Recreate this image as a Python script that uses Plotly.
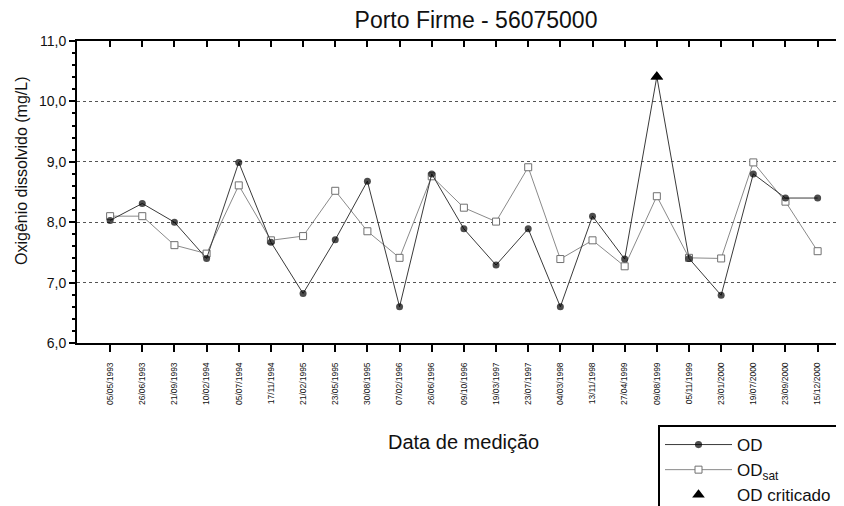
import plotly.graph_objects as go

dates = ["05/05/1993", "26/06/1993", "21/09/1993", "10/02/1994", "05/07/1994",
         "17/11/1994", "21/02/1995", "23/05/1995", "30/08/1995", "07/02/1996",
         "26/06/1996", "09/10/1996", "19/03/1997", "23/07/1997", "04/03/1998",
         "13/11/1998", "27/04/1999", "09/08/1999", "05/11/1999", "23/01/2000",
         "19/07/2000", "23/09/2000", "15/12/2000"]
od = [8.03, 8.31, 8.00, 7.40, 8.99, 7.67, 6.82, 7.71, 8.68, 6.60, 8.80, 7.89,
      7.29, 7.89, 6.60, 8.10, 7.39, 10.41, 7.40, 6.79, 8.80, 8.40, 8.40]
od_sat = [8.10, 8.10, 7.62, 7.48, 8.61, 7.70, 7.77, 8.52, 7.85, 7.41, 8.76, 8.24,
          8.01, 8.91, 7.39, 7.70, 7.27, 8.43, 7.41, 7.40, 8.99, 8.34, 7.52]
crit_idx = [17]
y_ticks = [6, 7, 8, 9, 10, 11]

FONT = "Liberation Sans, Arial, sans-serif"
OFF = 8  # page body margin offset

od_symbols = ["triangle-up" if i in crit_idx else "circle" for i in range(len(od))]
od_sizes = [11 if i in crit_idx else 7 for i in range(len(od))]

fig = go.Figure()
fig.add_trace(go.Scatter(
    x=dates, y=od_sat, mode="lines+markers", name="OD<sub>sat</sub>",
    line=dict(color="#8a8a8a", width=1),
    marker=dict(symbol="square", size=7, color="white", line=dict(color="#707070", width=1)),
    legendrank=2,
))
fig.add_trace(go.Scatter(
    x=dates, y=od, mode="lines+markers", name="OD",
    line=dict(color="#3a3a3a", width=1),
    marker=dict(symbol=od_symbols, size=od_sizes, color="black", line=dict(width=0)),
    legendrank=1,
))
fig.add_trace(go.Scatter(
    x=[dates[i] for i in crit_idx], y=[od[i] for i in crit_idx], mode="markers",
    name="OD criticado",
    marker=dict(symbol="triangle-up", size=11, color="black"),
    legendrank=3,
))
# top frame with inward ticks
fig.add_trace(go.Scatter(x=[0], y=[None], xaxis="x2", showlegend=False, hoverinfo="skip"))

n = len(dates)
xr = [-1.03, n - 1 + 0.82]
W, H = 844 - OFF, 506 - OFF

fig.update_layout(
    width=W, height=H,
    margin=dict(l=77 - OFF, r=0, t=41 - OFF, b=H - (343 - OFF), autoexpand=False),
    paper_bgcolor="white", plot_bgcolor="white",
    separators=",.",
    font=dict(family=FONT, color="#111", size=13),
    title=dict(text="Porto Firme - 56075000", x=(476 - OFF) / W, xanchor="center",
               y=1 - (20 - OFF) / H, yanchor="middle", xref="container", yref="container",
               font=dict(size=23, family=FONT, color="#111")),
    showlegend=True,
    legend=dict(x=(658 - 77) / 767, xanchor="left", y=(343 - 425) / 302, yanchor="top",
                bordercolor="black", borderwidth=2, bgcolor="white",
                font=dict(size=17, family=FONT, color="#111"),
                tracegroupgap=0, itemwidth=67),
    xaxis=dict(
        type="category", range=xr, showgrid=False, zeroline=False,
        showline=True, linecolor="black", linewidth=2,
        ticks="outside", ticklen=7, tickwidth=1.5, tickcolor="black",
        tickangle=-90, ticklabelstandoff=7,
        tickfont=dict(size=8.5, family=FONT, color="#111"),
    ),
    xaxis2=dict(
        overlaying="x", side="top", range=xr, tickmode="array",
        tickvals=list(range(n)), showticklabels=False, showgrid=False, zeroline=False,
        showline=True, linecolor="black", linewidth=2,
        ticks="inside", ticklen=6, tickwidth=1.5, tickcolor="black",
    ),
    yaxis=dict(
        range=[6, 11], tickmode="array", tickvals=y_ticks, tickformat=".1f",
        showgrid=True, gridcolor="#555", griddash="dot", gridwidth=1, zeroline=False,
        showline=True, linecolor="black", linewidth=2,
        ticks="outside", ticklen=6, tickwidth=1.5, tickcolor="black",
        minor=dict(dtick=0.2, ticks="outside", ticklen=3, tickcolor="black", showgrid=False),
        tickfont=dict(size=14, family=FONT, color="#111"),
    ),
    annotations=[
        dict(text="Data de medição", xref="paper", yref="paper",
             x=(463 - 77) / 767, y=(343 - 442) / 302, xanchor="center", yanchor="middle",
             showarrow=False, font=dict(size=20, family=FONT, color="#111")),
        dict(text="Oxigênio dissolvido (mg/L)", xref="paper", yref="paper",
             x=(21 - 77) / 767, y=(343 - 171) / 302, xanchor="center", yanchor="middle",
             textangle=-90, showarrow=False, font=dict(size=16, family=FONT, color="#111")),
    ],
)

fig.write_html("out.html")
